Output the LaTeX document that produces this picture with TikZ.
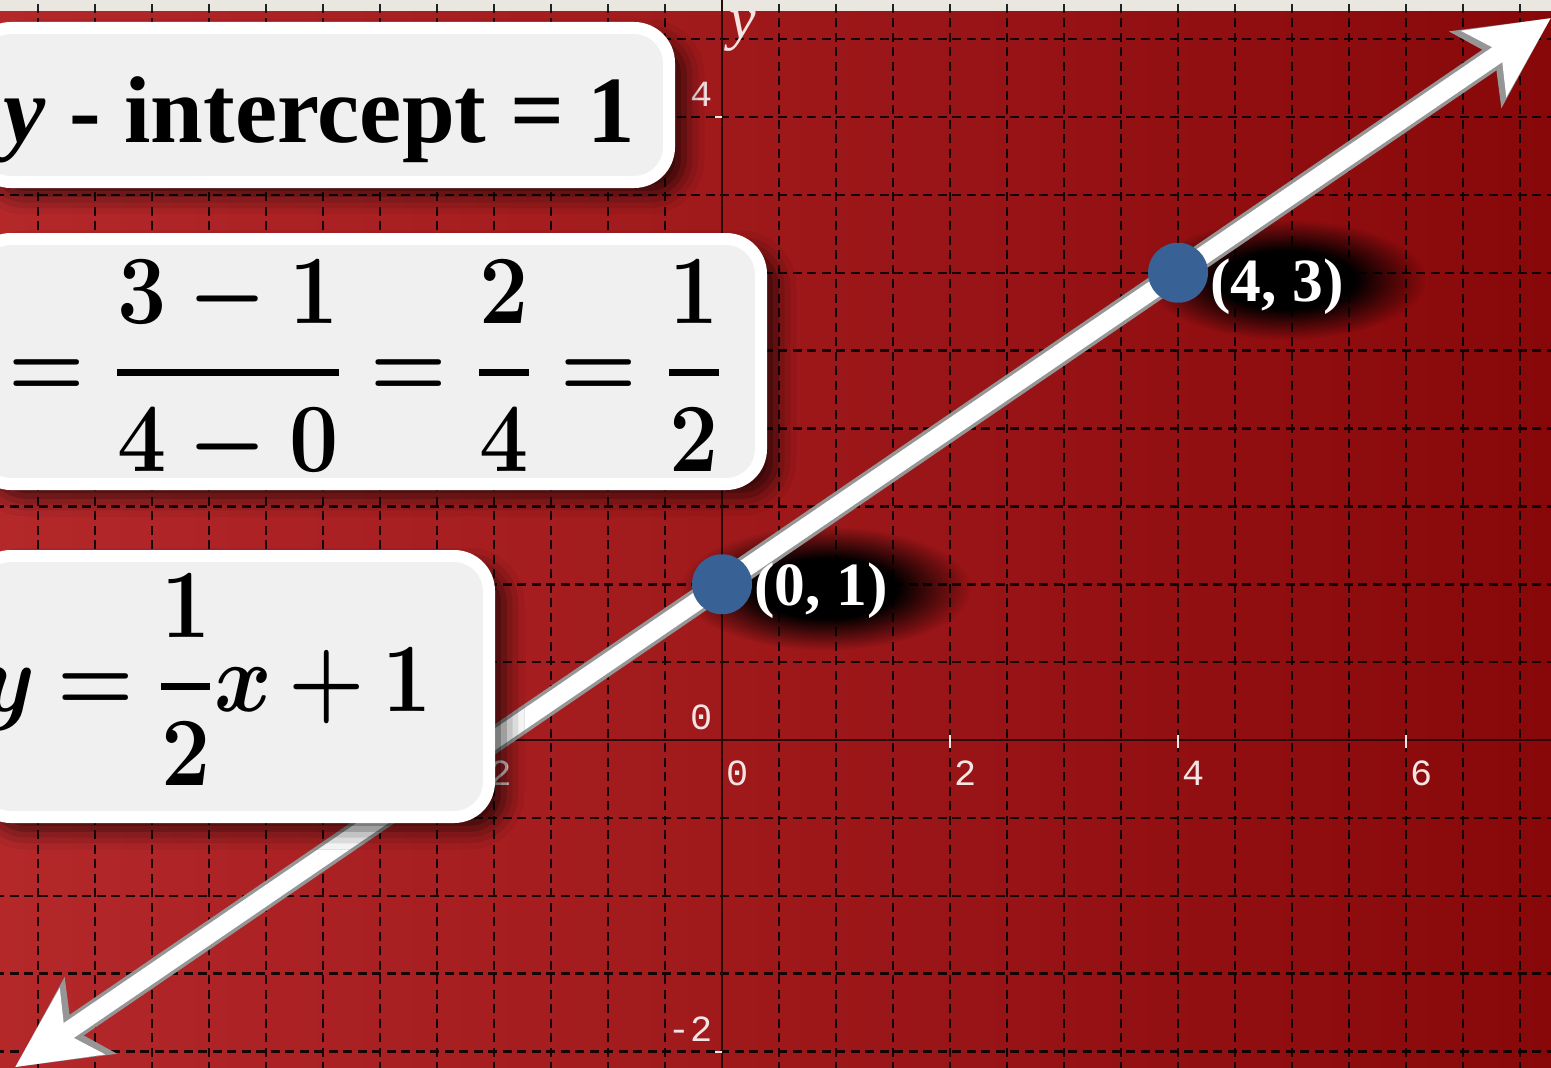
\documentclass[tikz,border=0pt]{standalone}
\usepackage{amsmath}
\usepackage{fontspec}
\newfontfamily\timesfont{Liberation Serif}
\newfontfamily\tickfont{Liberation Mono}
\usetikzlibrary{arrows.meta,positioning,fadings,shadows.blur}
\definecolor{bgleft}{RGB}{180,40,42}
\definecolor{bgright}{RGB}{136,8,10}
\definecolor{stripgray}{RGB}{234,231,224}
\definecolor{boxgray}{RGB}{240,240,240}
\definecolor{dotblue}{RGB}{56,98,150}
\definecolor{ticktext}{RGB}{245,228,228}
\definecolor{axisdark}{RGB}{45,8,8}
\definecolor{rimgray}{RGB}{150,150,150}
\pgfdeclareradialshading{glowshading}{\pgfpointorigin}{color(0bp)=(pgftransparent!0); color(12bp)=(pgftransparent!0); color(25bp)=(pgftransparent!100); color(50bp)=(pgftransparent!100)}
\pgfdeclarefading{glowfade}{\pgfuseshading{glowshading}}
\newcommand{\slopefrac}[2]{\genfrac{}{}{2pt}{0}{#1}{#2}}
\begin{document}
\begin{tikzpicture}[>=stealth,
    gridline/.style={draw=black, opacity=0.85, line width=0.025cm, dash pattern=on 0.09cm off 0.055cm},
    axisline/.style={draw=axisdark, line width=0.025cm},
    tickmark/.style={draw=ticktext, line width=0.02cm},
    ticklabel/.style={font=\tickfont\fontsize{10.5}{12}\selectfont, text=ticktext, inner sep=0pt},
    formbox/.style={draw=white, line width=0.12cm, fill=boxgray, rounded corners=0.35cm, blur shadow={shadow xshift=0.15cm, shadow yshift=-0.12cm, shadow blur radius=0.2cm, shadow opacity=75}},
    bigtext/.style={font=\timesfont\bfseries\fontsize{27}{30}\selectfont, inner sep=0pt},
    bigmath/.style={font={\fontsize{26}{30}\selectfont\boldmath}, inner sep=0pt, yscale=1.12, transform shape},
    ptdot/.style={circle, fill=dotblue, minimum size=0.6cm, inner sep=0pt},
    ptlabel/.style={font=\timesfont\bfseries\fontsize{17.5}{20}\selectfont, text=white, inner sep=0pt, anchor=base west},
    linerim/.style={draw=rimgray, line width=0.25cm, >={Stealth[length=0.9cm, width=0.9cm, inset=0.22cm]}, <->},
    linebody/.style={draw=white, line width=0.18cm, >={Stealth[length=0.8cm, width=0.78cm, inset=0.2cm]}, <->}]
    \useasboundingbox (0,0) rectangle (15.51,10.67);
    \shade [left color=bgleft, right color=bgright] (0,0) rectangle (15.51,10.67);
    \fill [stripgray] (0,10.56) rectangle (15.51,10.67);
    % grid and axes
    \begin{scope}[shift={(7.22,3.27)}, x=1.14cm, y=1.5575cm]
        \draw [gridline] (-6.5,-2.5) grid[xstep=0.5, ystep=0.5] (7.5,4.75);
        \draw [axisline] (-6.5,0) -- (7.5,0);
        \draw [axisline] (0,-2.5) -- (0,4.75);
        \draw [tickmark] (2,0.03) -- (2,-0.05);
        \draw [tickmark] (4,0.03) -- (4,-0.05);
        \draw [tickmark] (6,0.03) -- (6,-0.05);
        \draw [tickmark] (-0.06,4) -- (0,4);
        \draw [tickmark] (-0.06,-2) -- (0,-2);
        \node (xlm2) [ticklabel, anchor=north east] at (-1.84,-0.13) {-2};
        \node (xl0)  [ticklabel, anchor=north west] at (0.03,-0.13) {0};
        \node (xl2)  [ticklabel, anchor=north west] at (2.03,-0.13) {2};
        \node (xl4)  [ticklabel, anchor=north west] at (4.03,-0.13) {4};
        \node (xl6)  [ticklabel, anchor=north west] at (6.03,-0.13) {6};
        \node (yl4)  [ticklabel, anchor=south east] at (-0.08,4.06) {4};
        \node (yl0)  [ticklabel, anchor=south east] at (-0.08,0.06) {0};
        \node (ylm2) [ticklabel, anchor=south east] at (-0.08,-1.94) {-2};
        \node (ylab) [font=\timesfont\itshape\fontsize{17}{20}\selectfont, text=ticktext] at (0.18,4.55) {y};
        % line ends and points
        \coordinate (lo) at (-6.2,-2.1);
        \coordinate (hi) at (7.27,4.635);
        \coordinate (p01) at (0,1);
        \coordinate (p43) at (4,3);
    \end{scope}
    % glow behind the point labels
    \fill [black, path fading=glowfade] ([xshift=1.04cm, yshift=-0.04cm]p01) ellipse [x radius=1.45cm, y radius=0.62cm];
    \fill [black, path fading=glowfade] ([xshift=1.08cm, yshift=-0.07cm]p43) ellipse [x radius=1.4cm, y radius=0.6cm];
    \draw [linerim] (lo) -- (hi);
    \draw [linebody] (lo) -- (hi);
    \node (pt01) [ptdot] at (p01) {};
    \node (pt43) [ptdot] at (p43) {};
    \node (lbl01) [ptlabel] at ([xshift=0.01cm, yshift=-0.21cm]pt01.east) {(0, 1)};
    \node (lbl43) [ptlabel] at ([xshift=0.01cm, yshift=-0.29cm]pt43.east) {(4, 3)};
    % formula boxes
    \node (icptbox)  [formbox, minimum width=6.93cm, minimum height=1.54cm] at (3.225,9.62) {};
    \node (icpt) [bigtext, anchor=base east] at (6.36,9.25) {\textit{y} - intercept = 1};
    \node (slopebox) [formbox, minimum width=7.85cm, minimum height=2.45cm] at (3.685,7.055) {};
    \node (slope) [bigmath, anchor=base west] at (0.08,6.7) {$\displaystyle = \slopefrac{3-1}{4-0} = \slopefrac{2}{4} = \slopefrac{1}{2}$};
    \node (eqnbox)   [formbox, minimum width=5.13cm, minimum height=2.61cm] at (2.325,3.805) {};
    \node (eqn) [bigmath, anchor=base east] at (4.32,3.56) {$\thickmuskip=4mu\medmuskip=3mu\displaystyle y = \slopefrac{1}{2}x + 1$};
\end{tikzpicture}
\end{document}
